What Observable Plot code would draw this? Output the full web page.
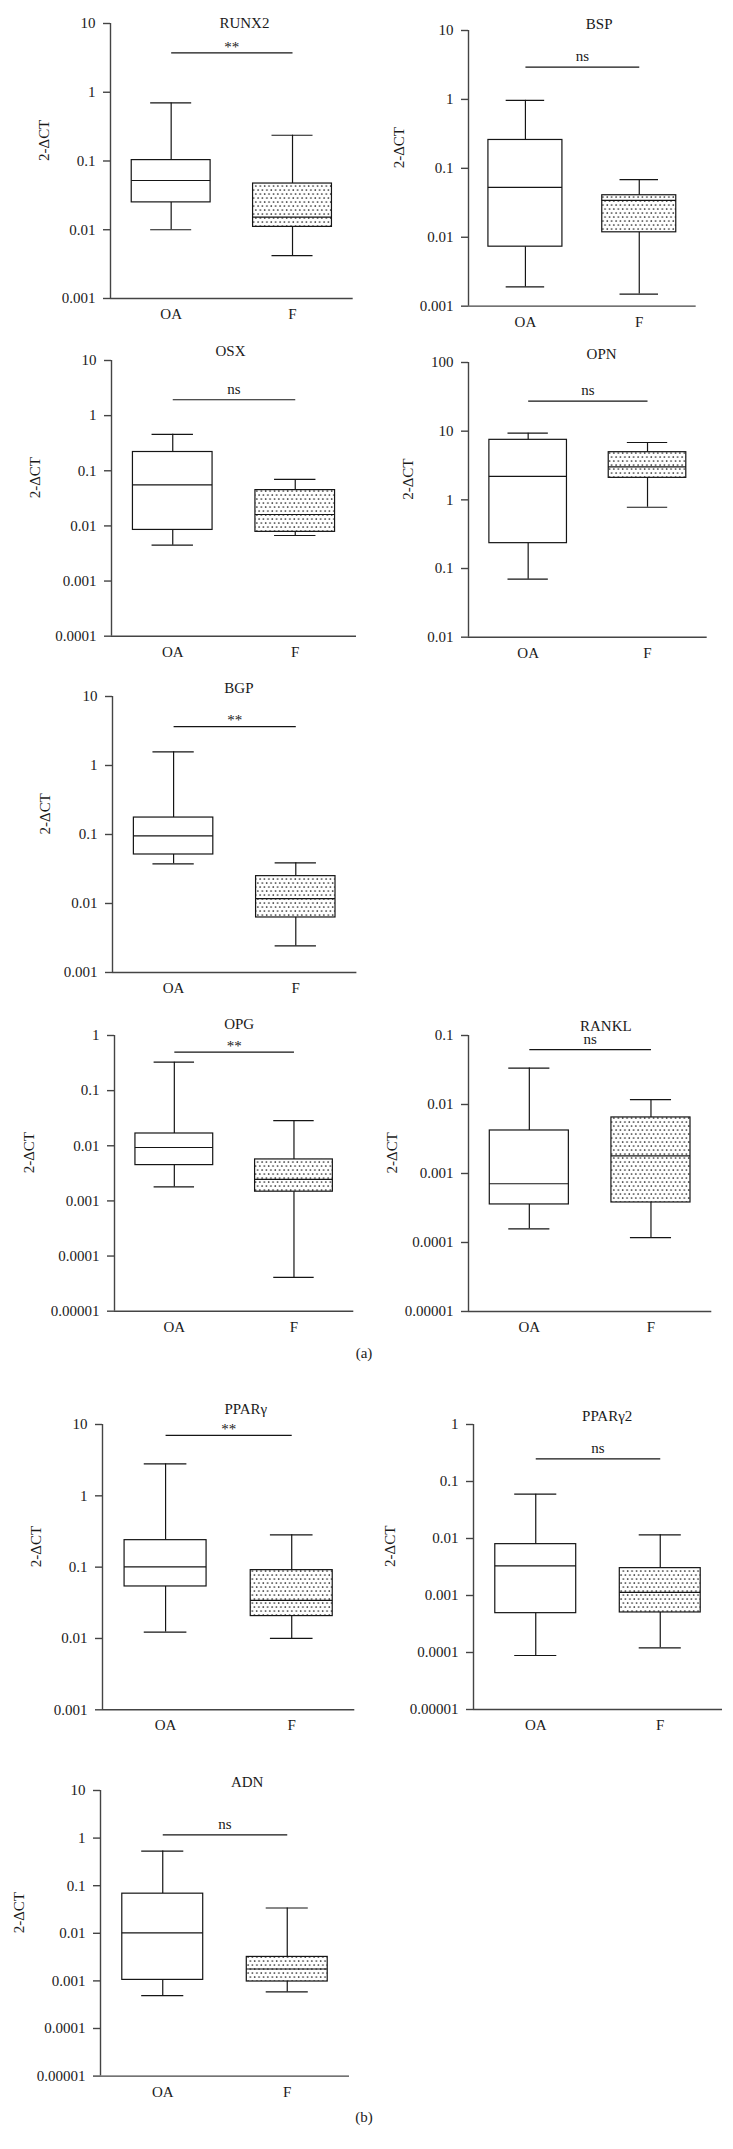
<!DOCTYPE html>
<html>
<head>
<meta charset="utf-8">
<script src="https://cdn.jsdelivr.net/npm/d3@7"></script>
<script src="https://cdn.jsdelivr.net/npm/@observablehq/plot@0.6"></script>
<style>
html, body { margin: 0; padding: 0; background: #fff; }
#page { position: relative; width: 733px; height: 2149px; overflow: hidden; background: #fff; font-family: "Liberation Serif", serif; }
.panel { position: absolute; }
.panel svg { overflow: visible; }
.panel [aria-label^="y-axis"] line, .panel [aria-label="y-axis tick"] path { stroke: #444; stroke-width: 1.4px; }
.cap { position: absolute; font-size: 15px; color: #222; transform: translate(-50%, -50%); white-space: nowrap; }
</style>
</head>
<body>
<div id="page">
  <svg width="0" height="0" style="position:absolute">
    <defs>
      <pattern id="dots" patternUnits="userSpaceOnUse" width="4.4" height="8">
        <rect width="4.4" height="8" fill="#fff"></rect>
        <circle cx="1.1" cy="2" r="0.85" fill="#222"></circle>
        <circle cx="3.3" cy="6" r="0.85" fill="#222"></circle>
      </pattern>
    </defs>
  </svg>
</div>
<script>
// ---------- data ----------
const genes = ["RUNX2", "BSP", "OSX", "OPN", "BGP", "OPG", "RANKL", "PPARγ", "PPARγ2", "ADN"];
const groups = ["OA", "F"];

const oaMin    = [0.010, 0.0019, 0.00447, 0.07, 0.0376, 0.00179, 0.000158, 0.0123, 0.0000886, 0.00049];
const oaQ1     = [0.025, 0.0073, 0.00846, 0.234, 0.0513, 0.00446, 0.000356, 0.0536, 0.00049, 0.00105];
const oaMedian = [0.052, 0.053, 0.0557, 2.19, 0.0957, 0.0093, 0.00071, 0.101, 0.00331, 0.0102];
const oaQ3     = [0.103, 0.258, 0.219, 7.48, 0.176, 0.0167, 0.0042, 0.239, 0.00796, 0.068];
const oaMax    = [0.70, 0.97, 0.458, 9.35, 1.58, 0.328, 0.0337, 2.81, 0.06, 0.533];

const fMin     = [0.0042, 0.0015, 0.0067, 0.78, 0.00243, 0.000041, 0.000118, 0.010, 0.000121, 0.000587];
const fQ1      = [0.011, 0.0118, 0.0078, 2.09, 0.00627, 0.00147, 0.00038, 0.0206, 0.000504, 0.00097];
const fMedian  = [0.0153, 0.0344, 0.0161, 3.03, 0.0118, 0.00245, 0.0018, 0.0341, 0.00113, 0.00178];
const fQ3      = [0.047, 0.0407, 0.0446, 4.94, 0.0249, 0.00565, 0.00649, 0.0908, 0.00302, 0.00319];
const fMax     = [0.237, 0.0685, 0.0697, 6.84, 0.0389, 0.0286, 0.0118, 0.284, 0.0116, 0.034];

const sigLabels = ["**", "ns", "ns", "ns", "**", "**", "ns", "**", "ns", "ns"];
const sigLevel  = [3.74, 2.94, 1.94, 27.4, 3.67, 0.499, 0.0626, 7.02, 0.25, 1.17];

const yTicks = [
  [0.001, 0.01, 0.1, 1, 10],
  [0.001, 0.01, 0.1, 1, 10],
  [0.0001, 0.001, 0.01, 0.1, 1, 10],
  [0.01, 0.1, 1, 10, 100],
  [0.001, 0.01, 0.1, 1, 10],
  [0.00001, 0.0001, 0.001, 0.01, 0.1, 1],
  [0.00001, 0.0001, 0.001, 0.01, 0.1],
  [0.001, 0.01, 0.1, 1, 10],
  [0.00001, 0.0001, 0.001, 0.01, 0.1, 1],
  [0.00001, 0.0001, 0.001, 0.01, 0.1, 1, 10]
];
const yLabel = "2-ΔCT";
const sectionLabels = ["(a)", "(b)"];

// ---------- layout (pixel frame of each panel) ----------
// [axisX, yTop, xRight, yBottom, titleDx, titleDy, yLabelOffset]
const panelFrames = [
  [110, 23.3, 352.7, 298.3, 12.6, -6.6, 66.7],
  [468.3, 30.3, 696, 306, 16.8, -12.3, 69],
  [111, 360, 356, 635.7, -3.5, -15, 76],
  [468, 362, 706.7, 636.7, 13.7, -14, 60],
  [112.3, 696.3, 356.7, 972.3, 4.2, -14.6, 67],
  [114, 1035, 353.3, 1310.7, 5, -16.7, 85.7],
  [467.7, 1035, 711, 1311, 15.7, -15.5, 76.7],
  [101.7, 1424, 354, 1709.3, 17.2, -20.7, 66.7],
  [473, 1424, 722, 1709, 9.2, -14, 83.7],
  [100, 1789.7, 349, 2075.3, 22.2, -13.7, 81.7]
];
const sectionPos = [[364, 1353], [364, 2117]];

const axisColor = "#444";
const boxColor = "#151515";
const fmt = d => d >= 1 ? String(d) : d.toFixed(Math.round(-Math.log10(d)));

const page = document.getElementById("page");

genes.forEach((gene, i) => {
  const [ax, yt, xr, yb, tdx, tdy, ylo] = panelFrames[i];
  const mL = 95, mR = 10, mT = 35, mB = 30;
  const w = xr - ax, h = yb - yt;
  const ticks = yTicks[i];
  const lo = ticks[0], hi = ticks[ticks.length - 1];
  const stats = [
    {group: "OA", min: oaMin[i], q1: oaQ1[i], median: oaMedian[i], q3: oaQ3[i], max: oaMax[i]},
    {group: "F", min: fMin[i], q1: fQ1[i], median: fMedian[i], q3: fQ3[i], max: fMax[i]}
  ];
  const oa = stats.filter(d => d.group === "OA");
  const f = stats.filter(d => d.group === "F");
  const bw = w * (1 - 0.35) / 2;
  const capInset = bw * 0.24;
  const sig = sigLabels[i];

  const plot = Plot.plot({
    width: mL + w + mR,
    height: mT + h + mB,
    marginLeft: mL, marginRight: mR, marginTop: mT, marginBottom: mB,
    style: {fontFamily: "'Liberation Serif', serif", fontSize: "15px", background: "transparent", color: "#1a1a1a", overflow: "visible"},
    x: {domain: groups, paddingInner: 0.35, paddingOuter: 0.175, round: false, tickSize: 0, tickPadding: 10, label: null},
    y: {type: "log", domain: [lo, hi], ticks: ticks, tickFormat: fmt, tickSize: 7, tickPadding: 8, label: null},
    marks: [
      Plot.ruleY([lo], {stroke: axisColor, strokeWidth: 1.4}),
      Plot.ruleX(["OA"], {x: d => d, dx: -w / 4, stroke: axisColor, strokeWidth: 1.4}),
      Plot.ruleX(stats, {x: "group", y1: "q3", y2: "max", stroke: boxColor, strokeWidth: 1.2}),
      Plot.ruleX(stats, {x: "group", y1: "min", y2: "q1", stroke: boxColor, strokeWidth: 1.2}),
      Plot.tickY(stats, {x: "group", y: "max", insetLeft: capInset, insetRight: capInset, stroke: boxColor, strokeWidth: 1.2}),
      Plot.tickY(stats, {x: "group", y: "min", insetLeft: capInset, insetRight: capInset, stroke: boxColor, strokeWidth: 1.2}),
      Plot.barY(oa, {x: "group", y1: "q1", y2: "q3", fill: "white", stroke: boxColor, strokeWidth: 1.2}),
      Plot.barY(f, {x: "group", y1: "q1", y2: "q3", fill: "url(#dots)", stroke: boxColor, strokeWidth: 1.2}),
      Plot.tickY(stats, {x: "group", y: "median", stroke: boxColor, strokeWidth: 1.2}),
      Plot.link([sigLevel[i]], {x1: () => "OA", x2: () => "F", y1: d => d, y2: d => d, stroke: boxColor, strokeWidth: 1.2}),
      Plot.text([sig], {x: () => "OA", y: () => sigLevel[i], dx: w / 4, dy: sig === "**" ? -6 : -10.5, text: d => d, fill: "#1a1a1a"}),
      Plot.text([gene], {frameAnchor: "top", dx: tdx, dy: tdy, text: d => d, fill: "#1a1a1a"}),
      Plot.text([yLabel], {frameAnchor: "left", rotate: -90, dx: -ylo, text: d => d, fill: "#1a1a1a"})
    ]
  });

  const div = document.createElement("div");
  div.className = "panel";
  div.style.left = (ax - mL) + "px";
  div.style.top = (yt - mT) + "px";
  div.appendChild(plot);
  page.appendChild(div);
});

sectionLabels.forEach((s, k) => {
  const d = document.createElement("div");
  d.className = "cap";
  d.style.left = sectionPos[k][0] + "px";
  d.style.top = sectionPos[k][1] + "px";
  d.textContent = s;
  page.appendChild(d);
});
</script>
</body>
</html>
